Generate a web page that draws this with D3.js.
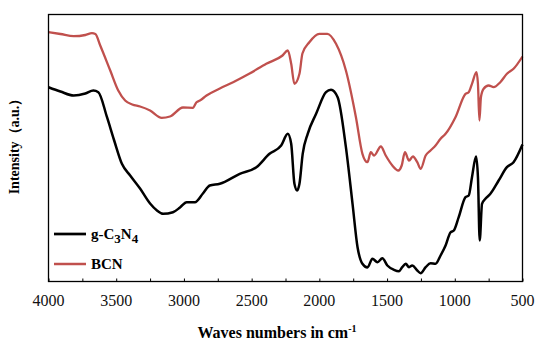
<!DOCTYPE html>
<html><head><meta charset="utf-8">
<script src="https://cdn.jsdelivr.net/npm/d3@7/dist/d3.min.js"></script>
<style>body{margin:0;background:#fff}svg{display:block}</style>
</head><body>
<svg id="c" width="536" height="340"></svg>
<script>
const wavenumbers_bcn = [4000,3912,3814,3728,3679,3654,3618,3544,3485,3434,3382,3324,3250,3164,3103,3007,2934,2907,2882,2833,2735,2637,2515,2392,2272,2233,2208,2184,2147,2125,2074,2000,1941,1877,1804,1730,1682,1645,1620,1596,1546,1510,1461,1417,1392,1368,1338,1309,1277,1252,1215,1179,1142,1105,1068,995,921,897,873,840,829,818,807,787,750,713,664,615,566,500];
const intensity_bcn = [249.3,247.5,245.3,246.5,248.3,247.5,236,211,191,181,177,175,171,163.7,165,174,173.7,179.3,181,186,193,199.3,208,217.7,226,231,217.7,197.7,207.7,228,239.3,247.7,247.7,237.7,211,164.3,127.7,119.3,129.3,126,135,126,116,111,116,129.3,121,125,119.3,112.7,126,131,136,142.7,147.7,164.3,187.7,189.3,197.7,209.3,197.7,161,184.3,192.7,196,194.3,199.3,207.7,212.7,225];
const wavenumbers_gcn = [4000,3912,3814,3728,3669,3632,3568,3515,3458,3397,3324,3250,3199,3154,3081,3029,2980,2919,2860,2809,2735,2588,2465,2368,2282,2233,2208,2184,2164,2147,2123,2086,2024,1951,1914,1865,1804,1755,1718,1682,1645,1608,1571,1535,1498,1449,1412,1388,1362,1338,1314,1277,1252,1215,1179,1142,1105,1068,1032,1007,971,921,897,873,843,829,816,799,774,737,676,615,566,500];
const intensity_gcn = [194.3,190,186,188,191,189.3,164.3,141,117.7,106,93,78,71,67.7,69.3,74,79.3,79.3,88,96,97.7,107.7,114.3,127.7,136,147.7,137.7,97.7,91,97.7,127.7,147.7,167.7,189.3,191.7,184.3,134.3,77.7,34.3,17.7,14,22.7,19.3,23.3,16,11.7,10.3,14.3,17.7,14.3,16,11,8.3,14.3,18.3,17.7,26,36,49,51,64.3,84.3,86,104.3,125,104.3,41,77.7,82.7,87.7,101,114.3,119.3,137];
const xTicks = [4000,3750,3500,3250,3000,2750,2500,2250,2000,1750,1500,1250,1000,750,500];
const xTickLabels = [4000,3500,3000,2500,2000,1500,1000,500];

const svg = d3.select('#c');
const L=48.5, R=522.5, T=14.5, B=281.5;
const x = d3.scaleLinear().domain([4000,500]).range([L,R]);
const y = d3.scaleLinear().domain([0,267]).range([B,T]);
const serif = '"Liberation Serif","Times New Roman",serif';

// ticks (inside, bottom only)
const ax = d3.axisBottom(x).tickValues(xTicks).tickSizeInner(-3).tickSizeOuter(0).tickFormat('');
svg.append('g').attr('transform',`translate(0,${B})`).call(ax)
  .call(g=>g.select('.domain').remove())
  .call(g=>g.selectAll('line').attr('stroke','#000'));
svg.append('g').selectAll('text').data(xTickLabels).join('text')
  .attr('x',d=>x(d)).attr('y',305.5).attr('text-anchor','middle')
  .attr('font-family',serif).attr('font-size',16).attr('fill','#111').text(d=>d);

const line = d3.line().x(d=>x(d[0])).y(d=>y(d[1])).curve(d3.curveMonotoneX);
svg.append('path').datum(d3.zip(wavenumbers_bcn,intensity_bcn))
  .attr('d',line).attr('fill','none').attr('stroke','#c0504d').attr('stroke-width',2.3).attr('stroke-linejoin','round');
svg.append('path').datum(d3.zip(wavenumbers_gcn,intensity_gcn))
  .attr('d',line).attr('fill','none').attr('stroke','#000').attr('stroke-width',2.5).attr('stroke-linejoin','round');

svg.append('rect').attr('x',L).attr('y',T).attr('width',R-L).attr('height',B-T)
  .attr('fill','none').attr('stroke','#000').attr('stroke-width',1.3);

// legend
const leg = svg.append('g');
leg.append('line').attr('x1',54).attr('x2',86).attr('y1',234).attr('y2',234).attr('stroke','#000').attr('stroke-width',2.7);
const t1 = leg.append('text').attr('x',91).attr('y',239).attr('font-family',serif).attr('font-size',15).attr('font-weight','bold');
t1.append('tspan').text('g-C');
t1.append('tspan').attr('dy',4).attr('font-size',13).text('3');
t1.append('tspan').attr('dy',-4).text('N');
t1.append('tspan').attr('dy',4).attr('font-size',13).text('4');
leg.append('line').attr('x1',54).attr('x2',86).attr('y1',264).attr('y2',264).attr('stroke','#c0504d').attr('stroke-width',2.5);
leg.append('text').attr('x',91).attr('y',269).attr('font-family',serif).attr('font-size',15).attr('font-weight','bold').text('BCN');

// axis titles
const xt = svg.append('text').attr('x',277).attr('y',338).attr('text-anchor','middle')
  .attr('font-family',serif).attr('font-size',16).attr('font-weight','bold');
xt.append('tspan').text('Waves numbers in cm');
xt.append('tspan').attr('dy',-6).attr('font-size',10).text('-1');
svg.append('text').attr('transform','translate(19,143) rotate(-90)').attr('text-anchor','middle')
  .attr('font-family',serif).attr('font-size',14).attr('font-weight','bold').text('Intensity（a.u.）');
</script>
</body></html>
